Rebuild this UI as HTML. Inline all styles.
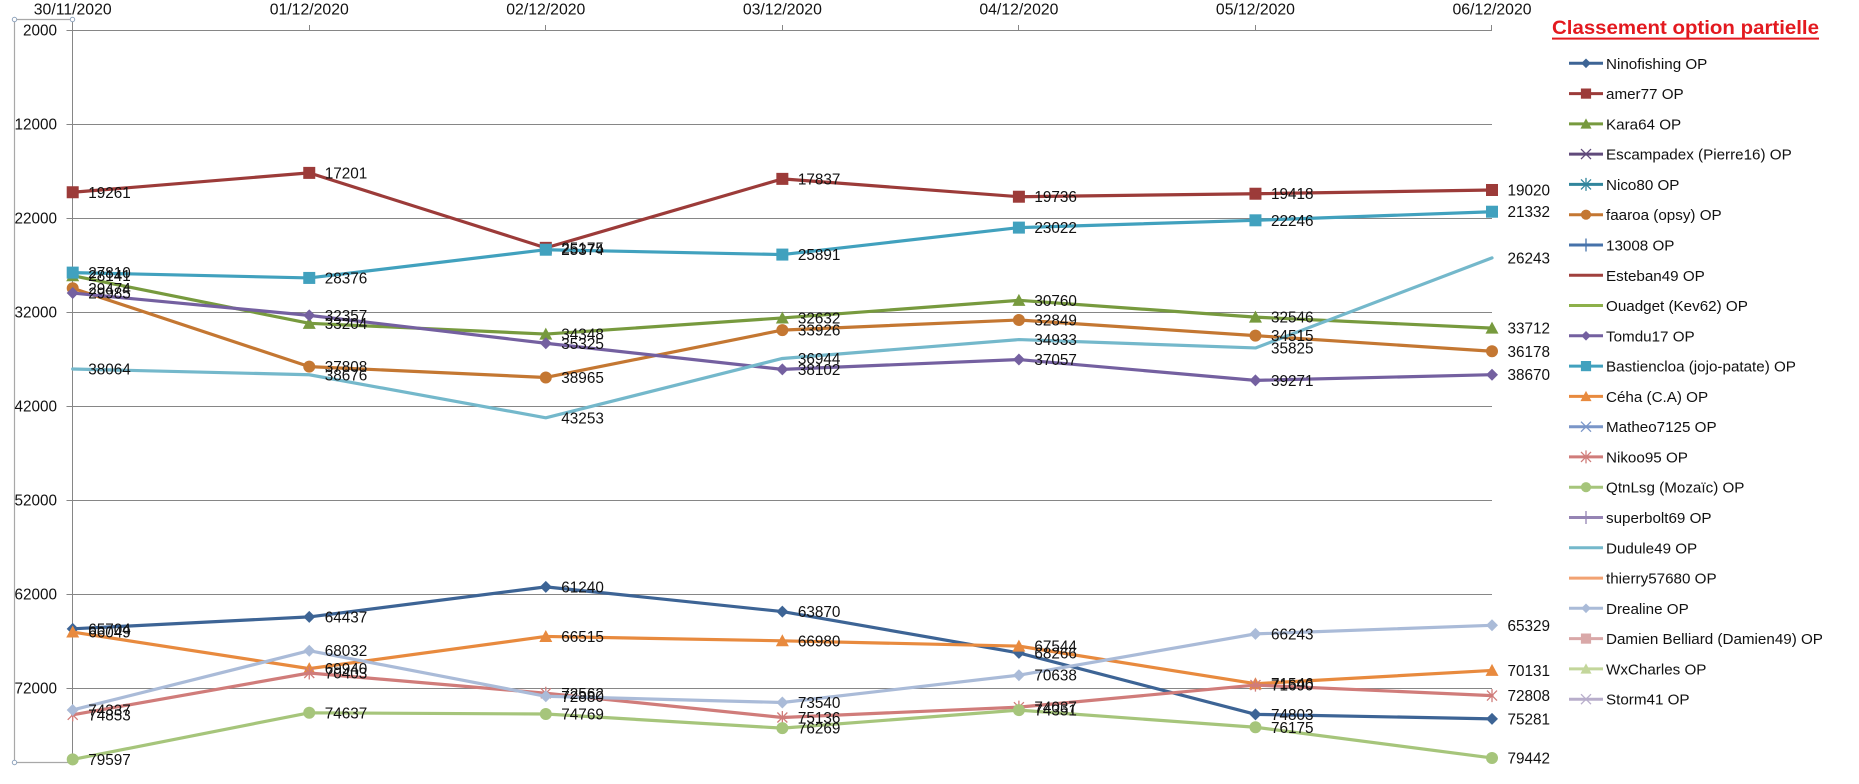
<!DOCTYPE html>
<html><head><meta charset="utf-8"><style>
html,body{margin:0;padding:0;background:#fff;}
svg{display:block;}
text{font-family:"Liberation Sans",Arial,sans-serif;}
</style></head><body>
<svg width="1859" height="784" viewBox="0 0 1859 784" xmlns="http://www.w3.org/2000/svg">
<defs>
<g id="dia_nino"><path d="M0,-6 L6,0 L0,6 L-6,0Z" fill="#3D6495"/></g>
<g id="sq_amer"><rect x="-6" y="-6" width="12" height="12" fill="#9C3B39"/></g>
<g id="tri_kara"><path d="M0,-6.5 L6.5,5.5 L-6.5,5.5Z" fill="#779A3E"/></g>
<g id="x_esc"><path d="M-5,-5L5,5M-5,5L5,-5" stroke="#604A7B" stroke-width="1.3" fill="none"/></g>
<g id="st_nico"><path d="M-5,-5L5,5M-5,5L5,-5M0,-6.5V6.5" stroke="#31859C" stroke-width="1.3" fill="none"/></g>
<g id="ci_faa"><circle r="6" fill="#C47732"/></g>
<g id="pl_130"><path d="M0,-6.5V6.5M-6.5,0H6.5" stroke="#4672AA" stroke-width="1.3" fill="none"/></g>
<g id="dia_tom"><path d="M0,-6 L6,0 L0,6 L-6,0Z" fill="#7460A0"/></g>
<g id="sq_bas"><rect x="-6" y="-6" width="12" height="12" fill="#41A1BE"/></g>
<g id="tri_ceh"><path d="M0,-6.5 L6.5,5.5 L-6.5,5.5Z" fill="#E88A3E"/></g>
<g id="x_mat"><path d="M-5,-5L5,5M-5,5L5,-5" stroke="#7A96C8" stroke-width="1.3" fill="none"/></g>
<g id="st_nik"><path d="M-5,-5L5,5M-5,5L5,-5M0,-6.5V6.5" stroke="#D07C7A" stroke-width="1.3" fill="none"/></g>
<g id="ci_qtn"><circle r="6" fill="#A6C57B"/></g>
<g id="pl_sup"><path d="M0,-6.5V6.5M-6.5,0H6.5" stroke="#9584B4" stroke-width="1.3" fill="none"/></g>
<g id="dia_dre"><path d="M0,-6 L6,0 L0,6 L-6,0Z" fill="#AABBD8"/></g>
<g id="sq_dam"><rect x="-6" y="-6" width="12" height="12" fill="#D9A8A8"/></g>
<g id="tri_wx"><path d="M0,-6.5 L6.5,5.5 L-6.5,5.5Z" fill="#C3D69B"/></g>
<g id="x_sto"><path d="M-5,-5L5,5M-5,5L5,-5" stroke="#B8AECB" stroke-width="1.3" fill="none"/></g>

<marker id="m_nino" viewBox="-10 -10 20 20" refX="0" refY="0" markerWidth="20" markerHeight="20" markerUnits="userSpaceOnUse" overflow="visible"><use href="#dia_nino"/></marker>
<marker id="m_amer" viewBox="-10 -10 20 20" refX="0" refY="0" markerWidth="20" markerHeight="20" markerUnits="userSpaceOnUse" overflow="visible"><use href="#sq_amer"/></marker>
<marker id="m_kara" viewBox="-10 -10 20 20" refX="0" refY="0" markerWidth="20" markerHeight="20" markerUnits="userSpaceOnUse" overflow="visible"><use href="#tri_kara"/></marker>
<marker id="m_faa" viewBox="-10 -10 20 20" refX="0" refY="0" markerWidth="20" markerHeight="20" markerUnits="userSpaceOnUse" overflow="visible"><use href="#ci_faa"/></marker>
<marker id="m_tom" viewBox="-10 -10 20 20" refX="0" refY="0" markerWidth="20" markerHeight="20" markerUnits="userSpaceOnUse" overflow="visible"><use href="#dia_tom"/></marker>
<marker id="m_bas" viewBox="-10 -10 20 20" refX="0" refY="0" markerWidth="20" markerHeight="20" markerUnits="userSpaceOnUse" overflow="visible"><use href="#sq_bas"/></marker>
<marker id="m_ceh" viewBox="-10 -10 20 20" refX="0" refY="0" markerWidth="20" markerHeight="20" markerUnits="userSpaceOnUse" overflow="visible"><use href="#tri_ceh"/></marker>
<marker id="m_nik" viewBox="-10 -10 20 20" refX="0" refY="0" markerWidth="20" markerHeight="20" markerUnits="userSpaceOnUse" overflow="visible"><use href="#st_nik"/></marker>
<marker id="m_qtn" viewBox="-10 -10 20 20" refX="0" refY="0" markerWidth="20" markerHeight="20" markerUnits="userSpaceOnUse" overflow="visible"><use href="#ci_qtn"/></marker>
<marker id="m_dre" viewBox="-10 -10 20 20" refX="0" refY="0" markerWidth="20" markerHeight="20" markerUnits="userSpaceOnUse" overflow="visible"><use href="#dia_dre"/></marker>
</defs>

<rect width="1859" height="784" fill="#fff"/>

<!-- selection bracket -->
<g stroke="#A8A8A8" stroke-width="1.2" fill="none">
<line x1="14.5" y1="19.5" x2="14.5" y2="762.5"/>
<line x1="14.5" y1="19.5" x2="72.5" y2="19.5"/>
<line x1="14.5" y1="762.5" x2="72.5" y2="762.5"/>
</g>

<!-- gridlines -->
<g stroke="#868686" stroke-width="1">
<line x1="66.5" y1="30.5" x2="1492" y2="30.5"/>
<line x1="66.5" y1="124.5" x2="1492" y2="124.5"/>
<line x1="66.5" y1="218.5" x2="1492" y2="218.5"/>
<line x1="66.5" y1="312.5" x2="1492" y2="312.5"/>
<line x1="66.5" y1="406.5" x2="1492" y2="406.5"/>
<line x1="66.5" y1="500.5" x2="1492" y2="500.5"/>
<line x1="66.5" y1="594.5" x2="1492" y2="594.5"/>
<line x1="66.5" y1="688.5" x2="1492" y2="688.5"/>
<line x1="72.5" y1="19" x2="72.5" y2="762"/>
<line x1="309.5" y1="25" x2="309.5" y2="30"/>
<line x1="545.5" y1="25" x2="545.5" y2="30"/>
<line x1="782.5" y1="25" x2="782.5" y2="30"/>
<line x1="1018.5" y1="25" x2="1018.5" y2="30"/>
<line x1="1255.5" y1="25" x2="1255.5" y2="30"/>
<line x1="1491.5" y1="25" x2="1491.5" y2="30"/>
</g>
<g fill="#fff" stroke="#8FA3BC" stroke-width="1">
<circle cx="14.5" cy="19.5" r="2.2"/><circle cx="72.5" cy="19.5" r="2.2"/>
<circle cx="14.5" cy="762.5" r="2.2"/><circle cx="72.5" cy="762.5" r="2.2"/>
</g>

<!-- axis labels -->
<g font-size="15.8" fill="#111" text-anchor="middle">
<text x="72.7" y="14.6">30/11/2020</text>
<text x="309.25" y="14.6">01/12/2020</text>
<text x="545.8" y="14.6">02/12/2020</text>
<text x="782.35" y="14.6">03/12/2020</text>
<text x="1018.9" y="14.6">04/12/2020</text>
<text x="1255.45" y="14.6">05/12/2020</text>
<text x="1492" y="14.6">06/12/2020</text>
</g>
<g font-size="15.3" fill="#111" text-anchor="end">
<text x="57" y="35.5">2000</text>
<text x="57" y="129.5">12000</text>
<text x="57" y="223.5">22000</text>
<text x="57" y="317.5">32000</text>
<text x="57" y="411.5">42000</text>
<text x="57" y="505.5">52000</text>
<text x="57" y="599.5">62000</text>
<text x="57" y="693.5">72000</text>
</g>

<!-- series -->
<g fill="none" stroke-width="3.2" stroke-linejoin="round" stroke-linecap="round">
<polyline stroke="#3D6495" marker-start="url(#m_nino)" marker-mid="url(#m_nino)" marker-end="url(#m_nino)" points="72.7,628.82 309.25,616.91 545.8,586.86 782.35,611.58 1018.9,652.9 1255.45,714.35 1492,718.84"/>
<polyline stroke="#9C3B39" marker-start="url(#m_amer)" marker-mid="url(#m_amer)" marker-end="url(#m_amer)" points="72.7,192.25 309.25,172.89 545.8,247.85 782.35,178.87 1018.9,196.72 1255.45,193.73 1492,189.99"/>
<polyline stroke="#779A3E" marker-start="url(#m_kara)" marker-mid="url(#m_kara)" marker-end="url(#m_kara)" points="72.7,275.73 309.25,323.32 545.8,334.07 782.35,317.94 1018.9,300.34 1255.45,317.13 1492,328.09"/>
<polyline stroke="#C47732" marker-start="url(#m_faa)" marker-mid="url(#m_faa)" marker-end="url(#m_faa)" points="72.7,288.26 309.25,366.6 545.8,377.47 782.35,330.1 1018.9,319.98 1255.45,335.64 1492,351.27"/>
<polyline stroke="#7460A0" marker-start="url(#m_tom)" marker-mid="url(#m_tom)" marker-end="url(#m_tom)" points="72.7,293.06 309.25,315.36 545.8,343.26 782.35,369.36 1018.9,359.54 1255.45,380.35 1492,374.7"/>
<polyline stroke="#41A1BE" marker-start="url(#m_bas)" marker-mid="url(#m_bas)" marker-end="url(#m_bas)" points="72.7,272.61 309.25,277.93 545.8,249.72 782.35,254.58 1018.9,227.61 1255.45,220.31 1492,211.72"/>
<polyline stroke="#E88A3E" marker-start="url(#m_ceh)" marker-mid="url(#m_ceh)" marker-end="url(#m_ceh)" points="72.7,632.06 309.25,668.64 545.8,636.44 782.35,640.81 1018.9,646.11 1255.45,683.73 1492,670.43"/>
<polyline stroke="#D07C7A" marker-start="url(#m_nik)" marker-mid="url(#m_nik)" marker-end="url(#m_nik)" points="72.7,714.82 309.25,672.99 545.8,693.28 782.35,717.48 1018.9,707.15 1255.45,685.09 1492,695.6"/>
<polyline stroke="#A6C57B" marker-start="url(#m_qtn)" marker-mid="url(#m_qtn)" marker-end="url(#m_qtn)" points="72.7,759.41 309.25,712.79 545.8,714.03 782.35,728.13 1018.9,710.1 1255.45,727.25 1492,757.95"/>
<polyline stroke="#74B8CB" points="72.7,369 309.25,374.75 545.8,417.78 782.35,358.47 1018.9,339.57 1255.45,347.96 1492,257.88"/>
<polyline stroke="#AABBD8" marker-start="url(#m_dre)" marker-mid="url(#m_dre)" marker-end="url(#m_dre)" points="72.7,709.97 309.25,650.7 545.8,696.27 782.35,702.48 1018.9,675.2 1255.45,633.88 1492,625.29"/>
</g>

<!-- data labels -->
<g font-size="15.3" fill="#111">
<text x="88.2" y="197.8">19261</text>
<text x="88.2" y="278.1">27810</text>
<text x="88.2" y="281.2">28141</text>
<text x="88.2" y="293.8">29474</text>
<text x="88.2" y="298.6">29985</text>
<text x="88.2" y="374.5">38064</text>
<text x="88.2" y="634.3">65704</text>
<text x="88.2" y="637.6">66049</text>
<text x="88.2" y="720.3">74853</text>
<text x="88.2" y="764.9">79597</text>
<text x="88.2" y="715.5">74337</text>

<text x="324.75" y="178.4">17201</text>
<text x="324.75" y="283.4">28376</text>
<text x="324.75" y="328.8">33204</text>
<text x="324.75" y="372.1">37808</text>
<text x="324.75" y="320.9">32357</text>
<text x="324.75" y="380.3">38676</text>
<text x="324.75" y="622.4">64437</text>
<text x="324.75" y="674.1">69940</text>
<text x="324.75" y="678.5">70403</text>
<text x="324.75" y="718.3">74637</text>
<text x="324.75" y="656.2">68032</text>

<text x="561.3" y="253.4">25175</text>
<text x="561.3" y="255.2">25374</text>
<text x="561.3" y="339.6">34348</text>
<text x="561.3" y="383.0">38965</text>
<text x="561.3" y="348.8">35325</text>
<text x="561.3" y="423.3">43253</text>
<text x="561.3" y="592.4">61240</text>
<text x="561.3" y="641.9">66515</text>
<text x="561.3" y="698.8">72562</text>
<text x="561.3" y="719.5">74769</text>
<text x="561.3" y="701.8">72880</text>

<text x="797.85" y="184.4">17837</text>
<text x="797.85" y="260.1">25891</text>
<text x="797.85" y="323.4">32632</text>
<text x="797.85" y="335.6">33926</text>
<text x="797.85" y="374.9">38102</text>
<text x="797.85" y="364.0">36944</text>
<text x="797.85" y="617.1">63870</text>
<text x="797.85" y="646.3">66980</text>
<text x="797.85" y="723.0">75136</text>
<text x="797.85" y="733.6">76269</text>
<text x="797.85" y="708.0">73540</text>

<text x="1034.4" y="202.2">19736</text>
<text x="1034.4" y="233.1">23022</text>
<text x="1034.4" y="305.8">30760</text>
<text x="1034.4" y="325.5">32849</text>
<text x="1034.4" y="365.0">37057</text>
<text x="1034.4" y="345.1">34933</text>
<text x="1034.4" y="658.4">68266</text>
<text x="1034.4" y="651.6">67544</text>
<text x="1034.4" y="712.7">74037</text>
<text x="1034.4" y="715.6">74351</text>
<text x="1034.4" y="680.7">70638</text>

<text x="1270.95" y="199.2">19418</text>
<text x="1270.95" y="225.8">22246</text>
<text x="1270.95" y="322.6">32546</text>
<text x="1270.95" y="341.1">34515</text>
<text x="1270.95" y="385.9">39271</text>
<text x="1270.95" y="353.5">35825</text>
<text x="1270.95" y="719.9">74803</text>
<text x="1270.95" y="689.2">71546</text>
<text x="1270.95" y="690.6">71690</text>
<text x="1270.95" y="732.8">76175</text>
<text x="1270.95" y="639.4">66243</text>

<text x="1507.5" y="195.5">19020</text>
<text x="1507.5" y="217.2">21332</text>
<text x="1507.5" y="333.6">33712</text>
<text x="1507.5" y="356.8">36178</text>
<text x="1507.5" y="380.2">38670</text>
<text x="1507.5" y="263.4">26243</text>
<text x="1507.5" y="724.3">75281</text>
<text x="1507.5" y="675.9">70131</text>
<text x="1507.5" y="701.1">72808</text>
<text x="1507.5" y="763.5">79442</text>
<text x="1507.5" y="630.8">65329</text>
</g>

<!-- title -->
<text x="1552" y="34" font-size="19.5" font-weight="bold" fill="#E3191F" textLength="267" lengthAdjust="spacingAndGlyphs">Classement option partielle</text>
<rect x="1552" y="37.6" width="267" height="2" fill="#E3191F"/>

<!-- legend lines -->
<g stroke-width="3">
<line x1="1569" x2="1603" y1="63.3" y2="63.3" stroke="#3D6495"/>
<line x1="1569" x2="1603" y1="93.6" y2="93.6" stroke="#9C3B39"/>
<line x1="1569" x2="1603" y1="123.9" y2="123.9" stroke="#779A3E"/>
<line x1="1569" x2="1603" y1="154.1" y2="154.1" stroke="#604A7B"/>
<line x1="1569" x2="1603" y1="184.4" y2="184.4" stroke="#31859C"/>
<line x1="1569" x2="1603" y1="214.7" y2="214.7" stroke="#C47732"/>
<line x1="1569" x2="1603" y1="245.0" y2="245.0" stroke="#4672AA"/>
<line x1="1569" x2="1603" y1="275.3" y2="275.3" stroke="#A0403E"/>
<line x1="1569" x2="1603" y1="305.5" y2="305.5" stroke="#8DB04A"/>
<line x1="1569" x2="1603" y1="335.8" y2="335.8" stroke="#7460A0"/>
<line x1="1569" x2="1603" y1="366.1" y2="366.1" stroke="#41A1BE"/>
<line x1="1569" x2="1603" y1="396.4" y2="396.4" stroke="#E88A3E"/>
<line x1="1569" x2="1603" y1="426.7" y2="426.7" stroke="#7A96C8"/>
<line x1="1569" x2="1603" y1="456.9" y2="456.9" stroke="#D07C7A"/>
<line x1="1569" x2="1603" y1="487.2" y2="487.2" stroke="#A6C57B"/>
<line x1="1569" x2="1603" y1="517.5" y2="517.5" stroke="#9584B4"/>
<line x1="1569" x2="1603" y1="547.8" y2="547.8" stroke="#74B8CB"/>
<line x1="1569" x2="1603" y1="578.1" y2="578.1" stroke="#F2A272"/>
<line x1="1569" x2="1603" y1="608.3" y2="608.3" stroke="#AABBD8"/>
<line x1="1569" x2="1603" y1="638.6" y2="638.6" stroke="#D9A8A8"/>
<line x1="1569" x2="1603" y1="668.9" y2="668.9" stroke="#C3D69B"/>
<line x1="1569" x2="1603" y1="699.2" y2="699.2" stroke="#B8AECB"/>
</g>
<!-- legend markers -->
<use href="#dia_nino" transform="translate(1586,63.3) scale(0.8)"/>
<use href="#sq_amer" transform="translate(1586,93.6) scale(0.85)"/>
<use href="#tri_kara" transform="translate(1586,123.9) scale(0.85)"/>
<use href="#x_esc" transform="translate(1586,154.1)"/>
<use href="#st_nico" transform="translate(1586,184.4)"/>
<use href="#ci_faa" transform="translate(1586,214.7) scale(0.85)"/>
<use href="#pl_130" transform="translate(1586,245.0)"/>
<use href="#dia_tom" transform="translate(1586,335.8) scale(0.8)"/>
<use href="#sq_bas" transform="translate(1586,366.1) scale(0.85)"/>
<use href="#tri_ceh" transform="translate(1586,396.4) scale(0.85)"/>
<use href="#x_mat" transform="translate(1586,426.7)"/>
<use href="#st_nik" transform="translate(1586,456.9)"/>
<use href="#ci_qtn" transform="translate(1586,487.2) scale(0.85)"/>
<use href="#pl_sup" transform="translate(1586,517.5)"/>
<use href="#dia_dre" transform="translate(1586,608.3) scale(0.8)"/>
<use href="#sq_dam" transform="translate(1586,638.6) scale(0.85)"/>
<use href="#tri_wx" transform="translate(1586,668.9) scale(0.85)"/>
<use href="#x_sto" transform="translate(1586,699.2)"/>

<!-- legend text -->
<g font-size="15.2" fill="#111" style="white-space:pre">
<text x="1606" y="68.8">Ninofishing OP</text>
<text x="1606" y="99.1">amer77 OP</text>
<text x="1606" y="129.4">Kara64  OP</text>
<text x="1606" y="159.6">Escampadex (Pierre16) OP</text>
<text x="1606" y="189.9">Nico80 OP</text>
<text x="1606" y="220.2">faaroa (opsy) OP</text>
<text x="1606" y="250.5">13008 OP</text>
<text x="1606" y="280.8">Esteban49 OP</text>
<text x="1606" y="311.0">Ouadget (Kev62) OP</text>
<text x="1606" y="341.3">Tomdu17 OP</text>
<text x="1606" y="371.6">Bastiencloa (jojo-patate) OP</text>
<text x="1606" y="401.9">Céha (C.A) OP</text>
<text x="1606" y="432.2">Matheo7125 OP</text>
<text x="1606" y="462.4">Nikoo95 OP</text>
<text x="1606" y="492.7">QtnLsg (Mozaïc) OP</text>
<text x="1606" y="523.0">superbolt69 OP</text>
<text x="1606" y="553.3">Dudule49 OP</text>
<text x="1606" y="583.6">thierry57680 OP</text>
<text x="1606" y="613.8">Drealine OP</text>
<text x="1606" y="644.1">Damien Belliard (Damien49) OP</text>
<text x="1606" y="674.4">WxCharles OP</text>
<text x="1606" y="704.7">Storm41 OP</text>
</g>
</svg>
</body></html>
